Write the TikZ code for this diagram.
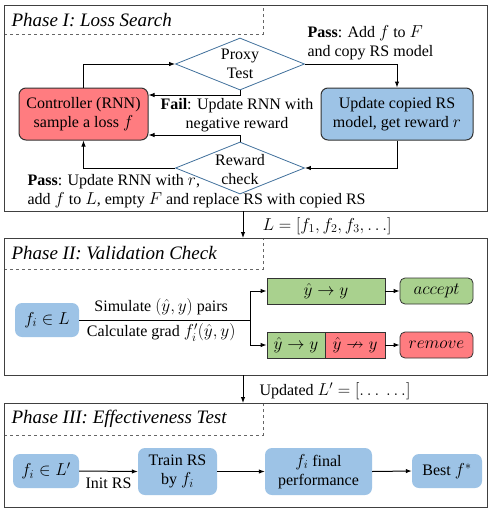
\documentclass[tikz,border=0pt]{standalone}
\usepackage{amsmath}
\usepackage{amssymb}
\usepackage{fontspec}
\setmainfont{Liberation Serif}
\DeclareMathSizes{16}{17.5}{12.5}{10}
\usepackage{tikz}
\usetikzlibrary{shapes.geometric, arrows.meta}

\definecolor{boxred}{RGB}{255,124,128}
\definecolor{boxblue}{RGB}{157,195,230}
\definecolor{boxgreen}{RGB}{169,209,142}
\definecolor{edgeblue}{RGB}{65,113,156}

\begin{document}
\begin{tikzpicture}[x=1pt, y=-1pt, font=\fontsize{16}{19}\selectfont,
	arr/.style={line width=1pt, -{Latex[length=6pt,width=4.5pt]}},
	frame/.style={draw=black!75, line width=0.8pt},
	tabline/.style={draw=black!60, dashed, line width=0.5pt},
	title/.style={anchor=west, font=\fontsize{19}{22}\selectfont\itshape},
	redbox/.style={draw=black!80, line width=1pt, fill=boxred, rounded corners=7pt, align=center, inner sep=0pt},
	bluebox/.style={fill=boxblue, rounded corners=7pt, align=center, inner sep=0pt},
	greenbox/.style={draw=black!80, line width=0.8pt, fill=boxgreen, inner sep=0pt},
	check/.style={diamond, draw=edgeblue, line width=0.8pt, inner sep=0pt, minimum width=129pt, minimum height=52pt}]
	\useasboundingbox (0,0) rectangle (490,512);
	\fill[white] (0,0) rectangle (490,512);
	% Phase I
	\draw[tabline] (4,34) -| (263,5);
	\draw[frame] (4,5) rectangle (487,211);
	\node[title] at (8,20) {Phase I: Loss Search};
	\node[redbox, minimum width=129pt, minimum height=52pt] (ctrl) at (83.5,114) {Controller (RNN)\\sample a loss $f$};
	\node[redbox, fill=boxblue, minimum width=152pt, minimum height=52pt] (upd) at (397,114) {Update copied RS\\model, get reward $r$};
	\node[check, label={[align=center]center:Proxy\\Test}] (proxy) at (240,64) {};
	\node[check, label={[align=center, yshift=-2pt]center:Reward\\check}] (rew) at (240,168) {};
	\draw[arr] (ctrl.north) |- (proxy.west);
	\draw[arr] (proxy.south) |- ([yshift=19pt]ctrl.east);
	\draw[arr] (proxy.east) -| (upd.north);
	\draw[arr] (upd.south) |- (rew.east);
	\draw[arr] (rew.north) |- ([yshift=-21pt]ctrl.east);
	\draw[arr] (rew.west) -| (ctrl.south);
	\node[anchor=west, align=left] at (304,43) {\textbf{Pass}: Add $f$ to $F$\\and copy RS model};
	\node[align=center] at (237,115) {\textbf{Fail}: Update RNN with\\negative reward};
	\node[anchor=west, align=left] at (24,191) {\textbf{Pass}: Update RNN with $r$,\\add $f$ to $L$, empty $F$ and replace RS with copied RS};
	% Phase II
	\draw[tabline] (4,269) -| (263,238);
	\draw[frame] (4,238) rectangle (487,375);
	\node[title] at (8,253) {Phase II: Validation Check};
	\draw[arr] (243,211) -- (243,238);
	\node[anchor=west] at (259,226) {$L = [f_1, f_2, f_3, \ldots]$};
	\node[bluebox, minimum width=64pt, minimum height=34pt] (fiL) at (47,320) {$f_i \in L$};
	\node[greenbox, minimum width=118pt, minimum height=26pt] (yy1) at (326,291) {$\hat{y} \rightarrow y$};
	\node[greenbox, rounded corners=5pt, minimum width=73pt, minimum height=26pt] (acc) at (436.5,291) {\fontsize{19}{22}\selectfont$accept$};
	\node[greenbox, minimum width=58pt, minimum height=26pt] (yy2) at (296,345) {$\hat{y} \rightarrow y$};
	\node[greenbox, fill=boxred, minimum width=60pt, minimum height=26pt] (nyy) at (355,345) {$\hat{y} \nrightarrow y$};
	\node[greenbox, fill=boxred, rounded corners=5pt, minimum width=73pt, minimum height=26pt] (rem) at (436.5,345) {\fontsize{19}{22}\selectfont$remove$};
	\coordinate (br) at (250,320);
	\draw[line width=1pt] (fiL.east) -- (br)
		node[pos=0.48, above=3pt, inner sep=0.5pt] {Simulate $(\hat{y}, y)$ pairs}
		node[pos=0.48, below=3pt, inner sep=0.5pt] {Calculate grad $f_i'(\hat{y}, y)$};
	\draw[arr] (br) |- (yy1.west);
	\draw[arr] (br) |- (yy2.west);
	\draw[arr] (yy1.east) -- (acc.west);
	\draw[arr] (nyy.east) -- (rem.west);
	% Phase III
	\draw[tabline] (4,435) -| (263,403);
	\draw[frame] (4,403) rectangle (487,507);
	\node[title] at (8,419) {Phase III: Effectiveness Test};
	\draw[arr] (243,375) -- (243,403);
	\node[anchor=west] at (256,391) {Updated $L' = [\ldots\ \ldots]$};
	\node[bluebox, minimum width=66pt, minimum height=34pt] (fiL2) at (46,471) {$f_i \in L'$};
	\node[bluebox, minimum width=79pt, minimum height=47pt] (train) at (177.5,471.5) {Train RS\\by $f_i$};
	\node[bluebox, minimum width=107pt, minimum height=47pt] (perf) at (318.5,471.5) {$f_i$ final\\performance};
	\node[bluebox, minimum width=70pt, minimum height=34pt] (best) at (447,471) {Best $f^{*}$};
	\draw[arr] (fiL2.east) -- (train.west) node[midway, below=3pt] {Init RS};
	\draw[arr] (train.east) -- (perf.west);
	\draw[arr] (perf.east) -- (best.west);
\end{tikzpicture}
\end{document}
